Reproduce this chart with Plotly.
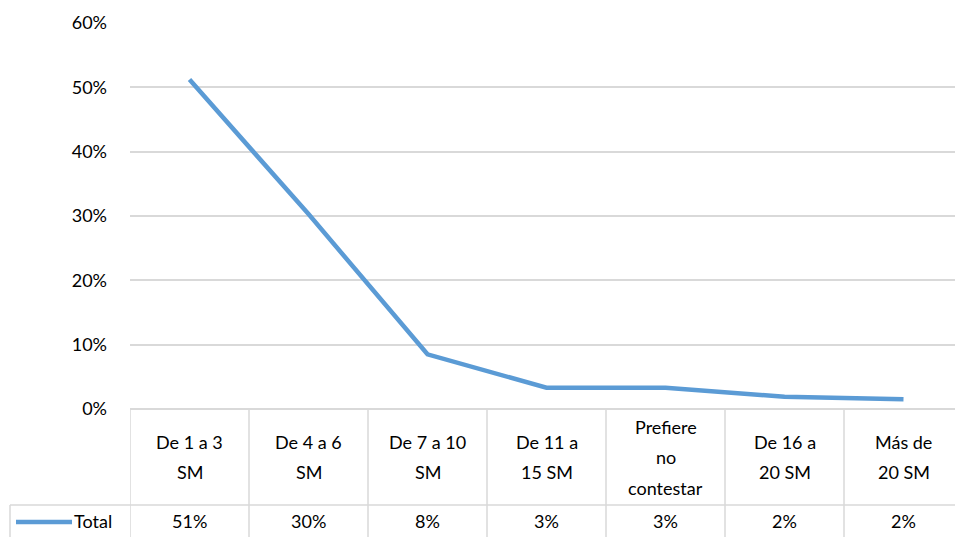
import plotly.graph_objects as go

categories = ["De 1 a 3<br>SM", "De 4 a 6<br>SM", "De 7 a 10<br>SM", "De 11 a<br>15 SM",
              "Prefiere<br>no<br>contestar", "De 16 a<br>20 SM", "Más de<br>20 SM"]
values = [0.512, 0.303, 0.085, 0.033, 0.033, 0.019, 0.015]
value_labels = ["51%", "30%", "8%", "3%", "3%", "2%", "2%"]
series_name = "Total"
y_ticks = [0, 0.1, 0.2, 0.3, 0.4, 0.5, 0.6]

OFF = 8  # page offset of the figure
W, H = 963 - OFF, 537 - OFF
PL, PT, PB = 130, 23, 409  # plot area in page pixels
L, R, T, B = PL - OFF, 0, PT - OFF, H - (PB - OFF)
plot_h = PB - PT
FONT = "Lato"
FS = 18
LINE = "#5B9BD5"
GRID = "#D9D9D9"

def py(pix):
    return (PB - pix) / plot_h

def px_x(pix):
    return (pix - PL) / (963 - PL)

x = list(range(len(categories)))
fig = go.Figure()
fig.add_trace(go.Scatter(x=x, y=values, mode="lines", line=dict(color=LINE, width=4.5),
                         name=series_name, showlegend=False))

shapes = []
annotations = []
n = len(categories)
for i in range(n + 1):
    shapes.append(dict(type="line", xref="x", yref="paper", x0=i - 0.5, x1=i - 0.5,
                       y0=py(409), y1=py(545), line=dict(color=GRID, width=1.5)))
shapes.append(dict(type="line", xref="paper", yref="paper", x0=px_x(10), x1=1,
                   y0=py(505), y1=py(505), line=dict(color=GRID, width=1.5)))
shapes.append(dict(type="line", xref="paper", yref="paper", x0=px_x(10), x1=px_x(10),
                   y0=py(505), y1=py(545), line=dict(color=GRID, width=1.5)))
shapes.append(dict(type="line", xref="paper", yref="paper", x0=px_x(16), x1=px_x(72),
                   y0=py(522), y1=py(522), line=dict(color=LINE, width=4.5)))

for i, cat in enumerate(categories):
    lines = cat.split("<br>")
    k = len(lines)
    center = 457
    spacing = 30.5
    for j, t in enumerate(lines):
        yp = center + (j - (k - 1) / 2) * spacing
        annotations.append(dict(x=i, y=py(yp), xref="x", yref="paper", text=t,
                                showarrow=False, xanchor="center", yanchor="middle",
                                font=dict(family=FONT, size=FS, color="#000")))
    annotations.append(dict(x=i, y=py(521), xref="x", yref="paper", text=value_labels[i],
                            showarrow=False, xanchor="center", yanchor="middle",
                            font=dict(family=FONT, size=FS, color="#000")))

annotations.append(dict(x=px_x(72), y=py(521), xref="paper", yref="paper", text=series_name,
                        showarrow=False, xanchor="left", yanchor="middle",
                        font=dict(family=FONT, size=FS, color="#000")))

fig.update_layout(
    width=W, height=H,
    margin=dict(l=L, r=R, t=T, b=B, pad=0),
    paper_bgcolor="white", plot_bgcolor="white",
    showlegend=False,
    xaxis=dict(range=[-0.5, n - 0.5], showgrid=False, showticklabels=False, zeroline=False,
               showline=False, fixedrange=True),
    yaxis=dict(range=[0, 0.6], tickvals=y_ticks, tickformat=".0%", showgrid=True,
               gridcolor=GRID, gridwidth=1.5, zeroline=True, zerolinecolor=GRID,
               zerolinewidth=1.5, showline=False, ticklabelstandoff=22,
               tickfont=dict(family=FONT, size=FS, color="#000"), fixedrange=True),
    shapes=shapes, annotations=annotations,
)

fig.write_html("out.html")
